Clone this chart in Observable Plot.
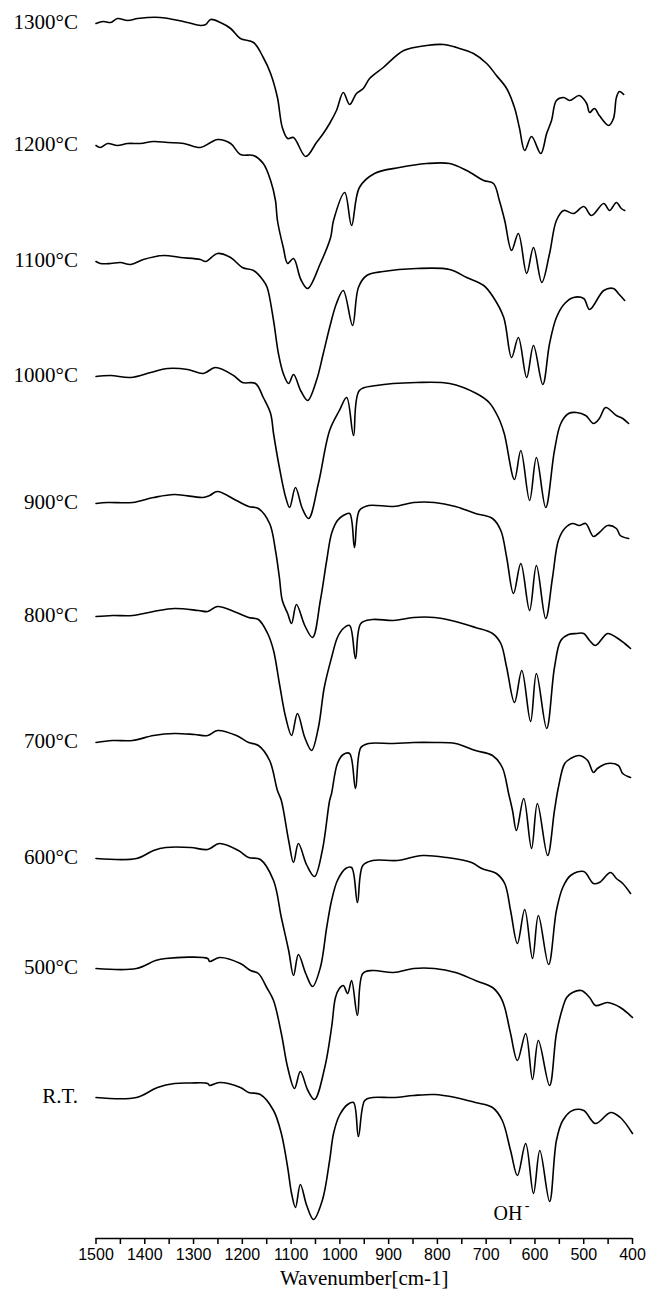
<!DOCTYPE html>
<html>
<head>
<meta charset="utf-8">
<script src="https://cdn.jsdelivr.net/npm/d3@7"></script>
<script src="https://cdn.jsdelivr.net/npm/@observablehq/plot@0.6"></script>
<style>
  html, body { margin: 0; padding: 0; background: #fff; }
  #chart svg { display: block; }
</style>
</head>
<body>
<div id="chart"></div>
<script>
// FTIR transmission spectra of the powder after heat treatment at each
// temperature. Each spectrum: [wavenumber (cm-1), relative transmittance].
const specRT = [[1500,0],[1417,0],[1374,10],[1339,14],[1306,14.5],[1271,14],[1267,12],[1247,15],[1204,10],[1187,5],[1163,3],[1136,-13],[1120,-36],[1107,-70],[1099,-96],[1091,-110],[1081,-87],[1068,-108],[1054,-122],[1036,-103],[1021,-63],[1013,-36],[1001,-18],[984,-7],[972,-5],[962,-39],[949,-3],[933,0],[890,0],[849,2],[806,3],[763,0],[722,-5],[687,-10],[667,-23],[650,-53],[636,-78],[619,-46],[603,-96],[590,-53],[570,-104],[556,-43],[543,-23],[523,-13],[500,-13],[476,-26],[445,-15],[425,-20],[400,-36]];
const spec500 = [[1500,9.5],[1417,9.5],[1378,17.5],[1357,19.5],[1271,19.5],[1267,16.5],[1247,20.5],[1204,14.5],[1183,7.5],[1167,4.5],[1150,-9.5],[1136,-22.5],[1120,-55.5],[1107,-89.5],[1093,-110.5],[1081,-93.5],[1066,-112],[1052,-121.5],[1031,-89.5],[1017,-49.5],[1009,-19.5],[1001,-10.5],[993,-7.5],[984,-15.5],[976,-2.5],[964,-37.5],[953,4.5],[933,7.5],[890,5.5],[849,9.5],[806,9.5],[763,5.5],[722,-2.5],[687,-9.5],[670,-19.5],[662,-29.5],[650,-55.5],[636,-82.5],[619,-55.5],[605,-101.5],[593,-62.5],[570,-107.5],[556,-55.5],[543,-29.5],[535,-19.5],[523,-14.5],[505,-12.5],[488,-19.5],[476,-27.5],[451,-24.5],[425,-29.5],[400,-39.5]];
const spec600 = [[1500,0],[1417,0],[1382,8],[1357,11],[1306,11],[1271,9],[1247,15],[1208,8],[1187,1],[1163,-1],[1136,-22],[1120,-59],[1105,-92],[1095,-117],[1085,-96],[1070,-115],[1056,-128],[1040,-109],[1027,-69],[1017,-42],[1005,-22],[988,-10],[976,-9],[964,-44],[953,-7],[933,-2],[882,-2],[831,3],[781,1],[730,-4],[709,-10],[679,-15],[662,-25],[650,-52],[636,-85],[621,-51],[605,-100],[593,-57],[572,-106],[556,-52],[543,-29],[527,-17],[500,-13],[480,-25],[468,-24],[445,-14],[433,-20],[420,-25],[404,-35]];
const spec700 = [[1500,-3.5],[1466,-1.5],[1425,-1.5],[1382,3.5],[1339,5.5],[1298,4.5],[1271,3.5],[1251,8.5],[1212,3.5],[1187,-3.5],[1167,-6.5],[1144,-21.5],[1128,-51.5],[1120,-61.5],[1105,-101.5],[1095,-123.5],[1085,-104.5],[1068,-126],[1052,-137.5],[1036,-111.5],[1021,-61.5],[1017,-54.5],[1005,-24.5],[993,-15.5],[980,-14.5],[968,-49.5],[957,-8.5],[941,-4.5],[890,-4.5],[849,-3.5],[806,-3.5],[763,-4.5],[722,-11.5],[687,-16.5],[667,-28.5],[654,-54.5],[646,-71.5],[638,-91.5],[623,-59.5],[607,-109.5],[595,-64.5],[574,-116.5],[560,-71.5],[552,-48.5],[539,-24.5],[527,-19.5],[509,-16.5],[492,-21.5],[480,-33.5],[472,-29.5],[451,-24.5],[429,-26.5],[420,-34.5],[404,-38.5]];
const spec800 = [[1500,3],[1466,4],[1425,4],[1382,8],[1339,11],[1290,9],[1271,8],[1251,13],[1212,7],[1187,2],[1167,0],[1148,-14],[1136,-31],[1124,-64],[1111,-98],[1099,-116],[1087,-94],[1072,-118],[1058,-131],[1044,-108],[1032,-68],[1017,-38],[1005,-18],[993,-9],[980,-6],[968,-39],[957,-4],[933,0],[890,-1],[849,2],[806,2],[763,-2],[722,-8],[687,-14],[670,-24],[658,-48],[642,-83],[627,-51],[609,-102],[597,-54],[576,-109],[560,-48],[547,-21],[531,-15],[515,-14],[500,-14],[488,-21],[476,-26],[451,-14],[433,-18],[416,-24],[404,-29]];
const spec900 = [[1500,-3.5],[1476,-2.5],[1425,-2.5],[1382,2.5],[1339,5.5],[1281,2.5],[1267,4.5],[1251,8.5],[1212,-0.5],[1187,-6.5],[1167,-8.5],[1144,-23.5],[1132,-50.5],[1124,-77.5],[1118,-100.5],[1107,-113.5],[1099,-123.5],[1089,-104.5],[1072,-125.5],[1056,-137.5],[1040,-100.5],[1027,-60.5],[1017,-33.5],[1005,-20.5],[993,-15.5],[980,-13.5],[970,-47.5],[960,-10.5],[941,-5.5],[890,-6.5],[849,-2.5],[806,-2.5],[763,-6.5],[722,-13.5],[687,-18.5],[670,-30.5],[658,-57.5],[644,-93.5],[629,-63.5],[611,-110.5],[597,-65.5],[578,-118.5],[564,-77.5],[552,-40.5],[539,-28.5],[523,-23.5],[509,-25.5],[496,-23.5],[480,-36.5],[468,-32.5],[451,-25.5],[433,-28.5],[425,-35.5],[408,-38.5]];
const spec1000 = [[1500,4],[1470,5],[1429,3],[1388,8],[1353,12],[1312,11],[1280,7],[1255,13],[1218,5],[1200,-2],[1173,-3],[1157,-17],[1142,-33],[1136,-53],[1124,-87],[1111,-117],[1103,-127],[1091,-107],[1077,-128],[1064,-138],[1044,-103],[1021,-50],[1001,-30],[986,-17],[972,-55],[960,-10],[925,-5],[843,-2],[775,-3],[720,-13],[694,-22],[675,-37],[663,-53],[642,-99],[629,-70],[611,-120],[597,-77],[578,-127],[560,-70],[547,-43],[531,-33],[515,-32],[496,-35],[480,-43],[468,-38],[455,-27],[433,-35],[420,-38],[408,-43]];
const spec1100 = [[1500,-0.5],[1491,-2.5],[1470,-2.5],[1450,-1.5],[1429,-3.5],[1403,1.5],[1362,5.5],[1327,3.5],[1286,1.5],[1275,-0.5],[1251,7.5],[1224,3.5],[1200,-6.5],[1177,-9.5],[1157,-19.5],[1149,-26.5],[1136,-59.5],[1126,-92.5],[1116,-112.5],[1105,-122.5],[1095,-113.5],[1080,-130],[1066,-139.5],[1048,-119.5],[1034,-92.5],[1021,-66.5],[1007,-42.5],[993,-29.5],[974,-64.5],[962,-26.5],[945,-14.5],[911,-10.5],[843,-7.5],[775,-8.5],[740,-16.5],[705,-24.5],[685,-36.5],[664,-56.5],[648,-96.5],[634,-76.5],[617,-116.5],[603,-84.5],[584,-123.5],[570,-82.5],[556,-56.5],[539,-42.5],[521,-36.5],[500,-37.5],[488,-48.5],[459,-29.5],[439,-27.5],[429,-32.5],[416,-39.5]];
const spec1200 = [[1500,-4],[1491,-6],[1476,-2],[1456,-4],[1435,-2],[1409,-2],[1382,0],[1353,-1],[1320,-2],[1286,-6],[1265,-1],[1251,2],[1224,-2],[1204,-13],[1177,-14],[1157,-22],[1142,-39],[1132,-59],[1128,-79],[1116,-106],[1107,-122],[1095,-117],[1080,-138],[1066,-147],[1040,-122],[1019,-96],[1013,-79],[990,-51],[976,-84],[960,-46],[929,-32],[878,-26],[822,-22],[775,-22],[740,-29],[705,-39],[685,-42],[673,-59],[662,-79],[648,-109],[634,-92],[617,-132],[603,-106],[586,-141],[570,-112],[556,-79],[541,-69],[521,-72],[500,-65],[484,-74],[459,-62],[447,-69],[433,-61],[423,-67],[416,-69]];
const spec1300 = [[1500,-1.5],[1485,0.5],[1470,-0.5],[1456,3.5],[1435,1.5],[1415,3.5],[1394,4.5],[1368,4.5],[1341,2.5],[1312,-0.5],[1286,-3.5],[1275,-2.5],[1265,2.5],[1245,-0.5],[1224,-6.5],[1204,-16.5],[1177,-20.5],[1157,-35.5],[1142,-51.5],[1128,-75.5],[1118,-105.5],[1107,-116.5],[1095,-115.5],[1070,-134.5],[1048,-120.5],[1034,-111.5],[1021,-101.5],[1007,-88.5],[993,-70.5],[980,-82.5],[966,-71.5],[952,-66.5],[939,-56.5],[911,-45.5],[869,-28.5],[822,-23.5],[787,-22.5],[761,-25.5],[726,-31.5],[699,-41.5],[679,-53.5],[658,-66.5],[642,-85.5],[632,-105.5],[621,-128.5],[607,-114.5],[588,-131.5],[576,-111.5],[566,-98.5],[556,-78.5],[541,-75.5],[529,-78.5],[509,-73.5],[494,-81.5],[488,-90.5],[478,-86.5],[468,-93.5],[449,-103.5],[439,-96.5],[433,-75.5],[427,-69.5],[418,-72.5]];

// Sample labels, bottom to top, and their spectra
const labels = ["R.T.", "500\u00B0C", "600\u00B0C", "700\u00B0C", "800\u00B0C", "900\u00B0C", "1000\u00B0C", "1100\u00B0C", "1200\u00B0C", "1300\u00B0C"];
const spectra = [specRT, spec500, spec600, spec700, spec800, spec900, spec1000, spec1100, spec1200, spec1300];

// Axis ticks: labelled every 100 cm-1, minor ticks every 50 cm-1
const tickValues = d3.range(400, 1501, 50);

// Vertical shift between successive spectra in the stack
const stackStep = 119.5;

const rows = spectra.flatMap((pts, i) =>
  pts.map(([w, t]) => ({sample: labels[i], w, v: i * stackStep + t}))
);
const labelRows = spectra.map((pts, i) => ({sample: labels[i], w: pts[0][0], v: i * stackStep + pts[0][1]}));

const serif = "'Liberation Serif', 'Times New Roman', serif";
const sans = "'Liberation Sans', Arial, sans-serif";
const yMin = -141;

const chart = Plot.plot({
  width: 646,
  height: 1301,
  marginLeft: 95.5,
  marginRight: 14,
  marginTop: 0,
  marginBottom: 63,
  style: {background: "#fff", color: "#000", fontFamily: sans, fontSize: "16px"},
  x: {domain: [1500, 400]},
  y: {domain: [yMin, 1097], axis: null},
  marks: [
    Plot.axisX({
      ticks: tickValues,
      tickFormat: d => (d % 100 === 0 ? String(d) : ""),
      tickSize: 6,
      tickPadding: 4,
      fontSize: 16,
      fontFamily: sans,
      strokeWidth: 1.5,
      label: null
    }),
    Plot.ruleY([yMin], {stroke: "#000", strokeWidth: 1.5}),
    Plot.line(rows, {
      x: "w",
      y: "v",
      z: "sample",
      curve: "catmull-rom",
      stroke: "#000",
      strokeWidth: 1.6,
      strokeLinejoin: "round"
    }),
    Plot.text(labelRows, {
      x: "w",
      y: "v",
      text: "sample",
      textAnchor: "end",
      dx: -18,
      dy: -1,
      fontFamily: serif,
      fontSize: 21,
      fill: "#000"
    }),
    // hydroxyl band annotation under the R.T. spectrum: "OH" with a raised minus
    Plot.text(["OH"], {x: 685, y: -116, text: d => d, textAnchor: "start", fontFamily: serif, fontSize: 20, fill: "#000"}),
    Plot.text(["-"], {x: 621, y: -108, text: d => d, textAnchor: "start", fontFamily: serif, fontSize: 14, fill: "#000"}),
    Plot.text(["Wavenumber[cm-1]"], {
      frameAnchor: "bottom",
      dy: 46,
      fontFamily: serif,
      fontSize: 21,
      fill: "#000"
    })
  ]
});

document.getElementById("chart").appendChild(chart);
</script>
</body>
</html>
